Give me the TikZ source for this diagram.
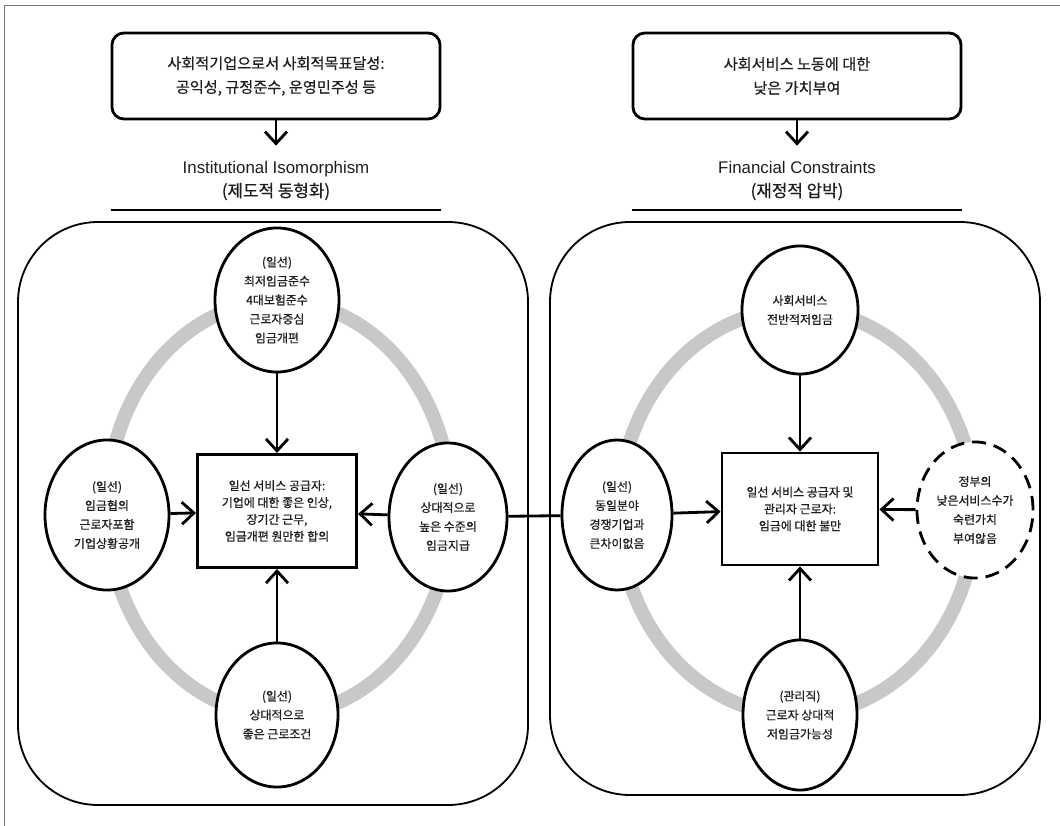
\documentclass[tikz,border=0pt]{standalone}
\usepackage{fontspec}
\setmainfont{Noto Sans CJK KR}[FakeBold=0.6]
\newfontfamily\enfont{Liberation Sans}
\usetikzlibrary{arrows.meta,shapes.geometric}
\definecolor{ringgray}{RGB}{200,200,200}
\definecolor{txtgray}{RGB}{30,30,30}
\definecolor{framegray}{RGB}{120,120,120}
\begin{document}
\begin{tikzpicture}[x=.025cm,y=-.025cm,>={Straight Barb[length=3mm,width=5.5mm]},line width=2pt,
    cause/.style={draw,rounded corners=.3cm,minimum width=8.2cm,minimum height=2.15cm,align=center,
      font=\fontsize{10.8}{17}\selectfont,text=txtgray},
    heading/.style={align=center,font=\fontsize{12}{16.3}\selectfont,text=txtgray},
    factor/.style={draw,ellipse,inner sep=0pt,fill=white,align=center,
      font=\fontsize{8.5}{13.5}\selectfont,text=txtgray},
    actor/.style={draw,rectangle,fill=white,align=center,
      font=\fontsize{8.5}{12}\selectfont,text=txtgray},
    panel/.style={line width=1.3pt,rounded corners=2cm},
    ring/.style={ringgray,line width=.35cm}]
  \useasboundingbox (0,0) rectangle (1060,826);
  \draw[framegray,line width=.6pt] (1060,5) -- (4,5) -- (4,826);

  \node[cause] (goalL) at (276,76) {사회적기업으로서 사회적목표달성:\\공익성, 규정준수, 운영민주성 등};
  \node[cause] (goalR) at (797,76) {사회서비스 노동에 대한\\낮은 가치부여};
  \node[heading] (isoT) at (276,181) {{\enfont Institutional Isomorphism}\\(제도적 동형화)};
  \node[heading] (finT) at (797,181) {{\enfont Financial Constraints}\\(재정적 압박)};
  \draw[->,shorten >=2.5mm] (goalL) -- (isoT);
  \draw[->,shorten >=2.5mm] (goalR) -- (finT);
  \draw (goalL.west |- 0,210) -- (goalL.east |- 0,210);
  \draw (goalR.west |- 0,210) -- (goalR.east |- 0,210);

  \draw[ring] (279,508) ellipse [x radius=4.3cm,y radius=5.175cm];
  \draw[ring] (797,512) ellipse [x radius=4.45cm,y radius=5.075cm];
  \draw[panel] (18,222) rectangle (528,805);
  \draw[panel] (550,222) rectangle (1040,795);

  \node[actor,minimum width=3.98cm,minimum height=2.83cm] (firmL) at (277,511)
    {일선 서비스 공급자:\\기업에 대한 좋은 인상,\\장기간 근무,\\임금개편 원만한 합의};
  \node[factor,minimum width=3.1cm,minimum height=3.6cm] (lawL) at (277,300)
    {(일선)\\최저임금준수\\4대보험준수\\근로자중심\\임금개편};
  \node[factor,minimum width=3.1cm,minimum height=3.75cm] (talkL) at (107,515)
    {(일선)\\임금협의\\근로자포함\\기업상황공개};
  \node[factor,minimum width=2.95cm,minimum height=3.7cm] (payL) at (448,517)
    {(일선)\\상대적으로\\높은 수준의\\임금지급};
  \node[factor,minimum width=3.05cm,minimum height=3.6cm] (workL) at (277,715)
    {(일선)\\상대적으로\\좋은 근로조건};

  \node[actor,minimum width=3.9cm,minimum height=2.8cm] (firmR) at (800,509)
    {일선 서비스 공급자 및\\관리자 근로자:\\임금에 대한 불만};
  \node[factor,minimum width=2.9cm,minimum height=3.2cm] (lowR) at (800,310)
    {사회서비스\\전반적저임금};
  \node[factor,minimum width=2.75cm,minimum height=3.75cm] (peerR) at (617,515)
    {(일선)\\동일분야\\경쟁기업과\\큰차이없음};
  \node[factor,dash pattern=on .35cm off .2cm,minimum width=2.9cm,minimum height=3.4cm] (govR) at (975,510)
    {정부의\\낮은서비스수가\\숙련가치\\부여않음};
  \node[factor,minimum width=2.85cm,minimum height=3.75cm] (mgrR) at (800,715)
    {(관리직)\\근로자 상대적\\저임금가능성};

  \draw[->] (lawL) -- (firmL);
  \draw[->] (talkL) -- (firmL);
  \draw[->] (payL) -- (firmL);
  \draw[->] (workL) -- (firmL);
  \draw (payL) -- (peerR);
  \draw[->] (lowR) -- (firmR);
  \draw[->] (peerR) -- (firmR);
  \draw[->] (govR) -- (firmR);
  \draw[->] (mgrR) -- (firmR);
\end{tikzpicture}
\end{document}
